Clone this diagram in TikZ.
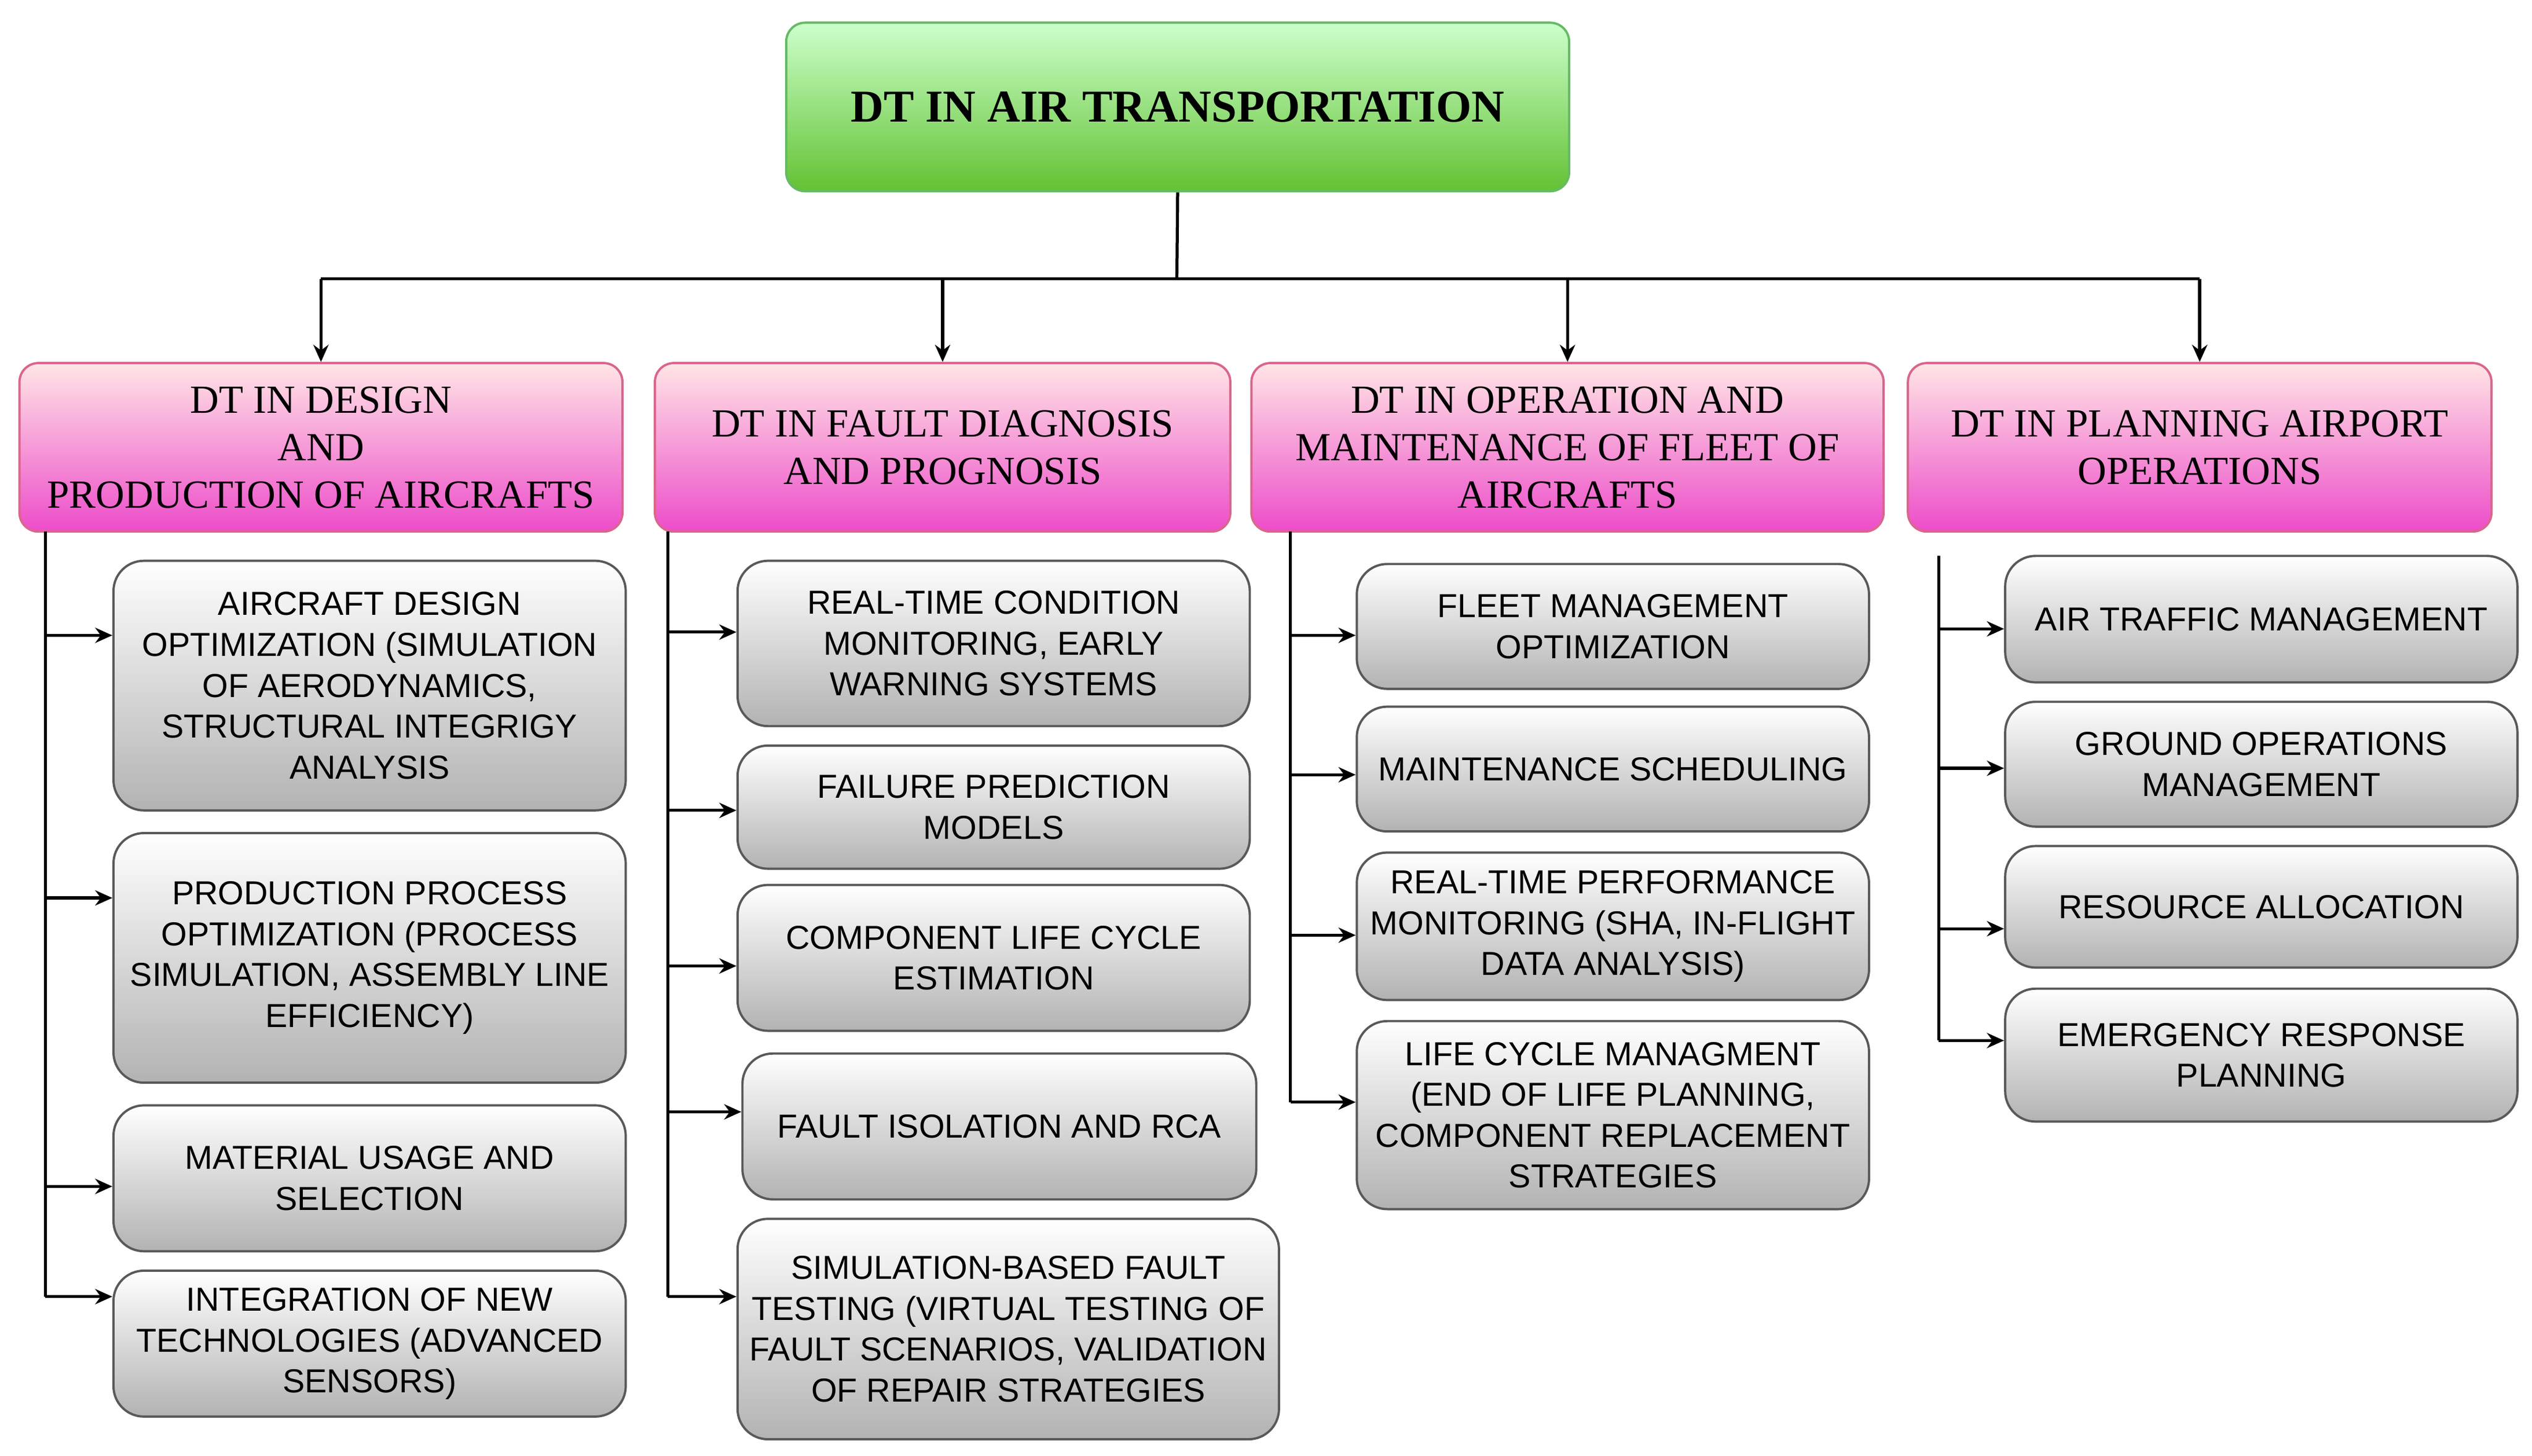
\documentclass[tikz,border=0pt]{standalone}
\usepackage{fontspec}
\setmainfont{Liberation Serif}
\newfontfamily\sub{Liberation Sans}
\usetikzlibrary{arrows.meta}
\begin{document}
\begin{tikzpicture}[x=0.03cm,y=-0.03cm,
 top/.style={draw=green!55!black!60,line width=1.2pt,rounded corners=10pt,top color=green!20!white,bottom color=green!55!lime!70!black!80,font=\bfseries\fontsize{24}{28}\selectfont},
 cat/.style={draw=purple!60,line width=1.2pt,rounded corners=10pt,top color=pink!40!white,bottom color=magenta!60!purple!70,align=center,font=\fontsize{21}{25}\selectfont},
 leaf/.style={draw=gray!70!black,line width=1.2pt,rounded corners=16pt,top color=white,bottom color=gray!60,align=center,font=\sub\fontsize{17.5}{21.5}\selectfont},
 ln/.style={line width=1.6pt},
 ar/.style={line width=1.6pt,-{Stealth[length=9pt,width=8pt]}}]
\useasboundingbox (0,0) rectangle (1562,898);
\newcommand\bx[7]{\node[#1,minimum width={(#4-#2)*0.03cm},minimum height={(#5-#3)*0.03cm},inner sep=0pt] (#6) at ({(#2+#4)/2},{(#3+#5)/2}) {#7};}
\bx{top}{485}{14}{968}{118}{t}{DT IN AIR TRANSPORTATION}
\bx{cat}{12}{224}{384}{328}{c1}{DT IN DESIGN\\AND\\PRODUCTION OF AIRCRAFTS}
\bx{cat}{404}{224}{759}{328}{c2}{DT IN FAULT DIAGNOSIS\\AND PROGNOSIS}
\bx{cat}{772}{224}{1162}{328}{c3}{DT IN OPERATION AND\\MAINTENANCE OF FLEET OF\\AIRCRAFTS}
\bx{cat}{1177}{224}{1537}{328}{c4}{DT IN PLANNING AIRPORT\\OPERATIONS}
\coordinate (j) at (726,172);
\draw[ln] (t.south) -- (j);
\draw[ln] (198,172) -- (1357,172);
\foreach \c in {c1,c2,c3,c4}{\draw[ar] (j -| \c.north) -- (\c.north);}
% column 1
\bx{leaf}{70}{346}{386}{500}{a1}{AIRCRAFT DESIGN\\OPTIMIZATION (SIMULATION\\OF AERODYNAMICS,\\STRUCTURAL INTEGRIGY\\ANALYSIS}
\bx{leaf}{70}{514}{386}{668}{a2}{PRODUCTION PROCESS\\OPTIMIZATION (PROCESS\\SIMULATION, ASSEMBLY LINE\\EFFICIENCY)}
\bx{leaf}{70}{682}{386}{772}{a3}{MATERIAL USAGE AND\\SELECTION}
\bx{leaf}{70}{784}{386}{874}{a4}{INTEGRATION OF NEW\\TECHNOLOGIES (ADVANCED\\SENSORS)}
\coordinate (k1) at (28,328); \coordinate (e1) at (28,800);
\draw[ln] (k1) -- (e1);
\foreach \n/\y in {a1/392,a2/554,a3/732,a4/800}{\coordinate (p) at (28,\y); \draw[ar] (p) -- (p -| \n.west);}
% column 2
\bx{leaf}{455}{346}{771}{448}{b1}{REAL-TIME CONDITION\\MONITORING, EARLY\\WARNING SYSTEMS}
\bx{leaf}{455}{460}{771}{536}{b2}{FAILURE PREDICTION\\MODELS}
\bx{leaf}{455}{546}{771}{636}{b3}{COMPONENT LIFE CYCLE\\ESTIMATION}
\bx{leaf}{458}{650}{775}{740}{b4}{FAULT ISOLATION AND RCA}
\bx{leaf}{455}{752}{789}{888}{b5}{SIMULATION-BASED FAULT\\TESTING (VIRTUAL TESTING OF\\FAULT SCENARIOS, VALIDATION\\OF REPAIR STRATEGIES}
\draw[ln] (412,328) -- (412,800);
\foreach \n/\y in {b1/390,b2/500,b3/596,b4/686,b5/800}{\coordinate (p) at (412,\y); \draw[ar] (p) -- (p -| \n.west);}
% column 3
\bx{leaf}{837}{348}{1153}{425}{d1}{FLEET MANAGEMENT\\OPTIMIZATION}
\bx{leaf}{837}{436}{1153}{513}{d2}{MAINTENANCE SCHEDULING}
\bx{leaf}{837}{526}{1153}{617}{d3}{REAL-TIME PERFORMANCE\\MONITORING (SHA, IN-FLIGHT\\DATA ANALYSIS)}
\bx{leaf}{837}{630}{1153}{746}{d4}{LIFE CYCLE MANAGMENT\\(END OF LIFE PLANNING,\\COMPONENT REPLACEMENT\\STRATEGIES}
\draw[ln] (796,328) -- (796,680);
\foreach \n/\y in {d1/392,d2/478,d3/577,d4/680}{\coordinate (p) at (796,\y); \draw[ar] (p) -- (p -| \n.west);}
% column 4
\bx{leaf}{1237}{343}{1553}{421}{f1}{AIR TRAFFIC MANAGEMENT}
\bx{leaf}{1237}{433}{1553}{510}{f2}{GROUND OPERATIONS\\MANAGEMENT}
\bx{leaf}{1237}{522}{1553}{597}{f3}{RESOURCE ALLOCATION}
\bx{leaf}{1237}{610}{1553}{692}{f4}{EMERGENCY RESPONSE\\PLANNING}
\draw[ln] (1196,343) -- (1196,642);
\foreach \n/\y in {f1/388,f2/474,f3/573,f4/642}{\coordinate (p) at (1196,\y); \draw[ar] (p) -- (p -| \n.west);}
\end{tikzpicture}
\end{document}
